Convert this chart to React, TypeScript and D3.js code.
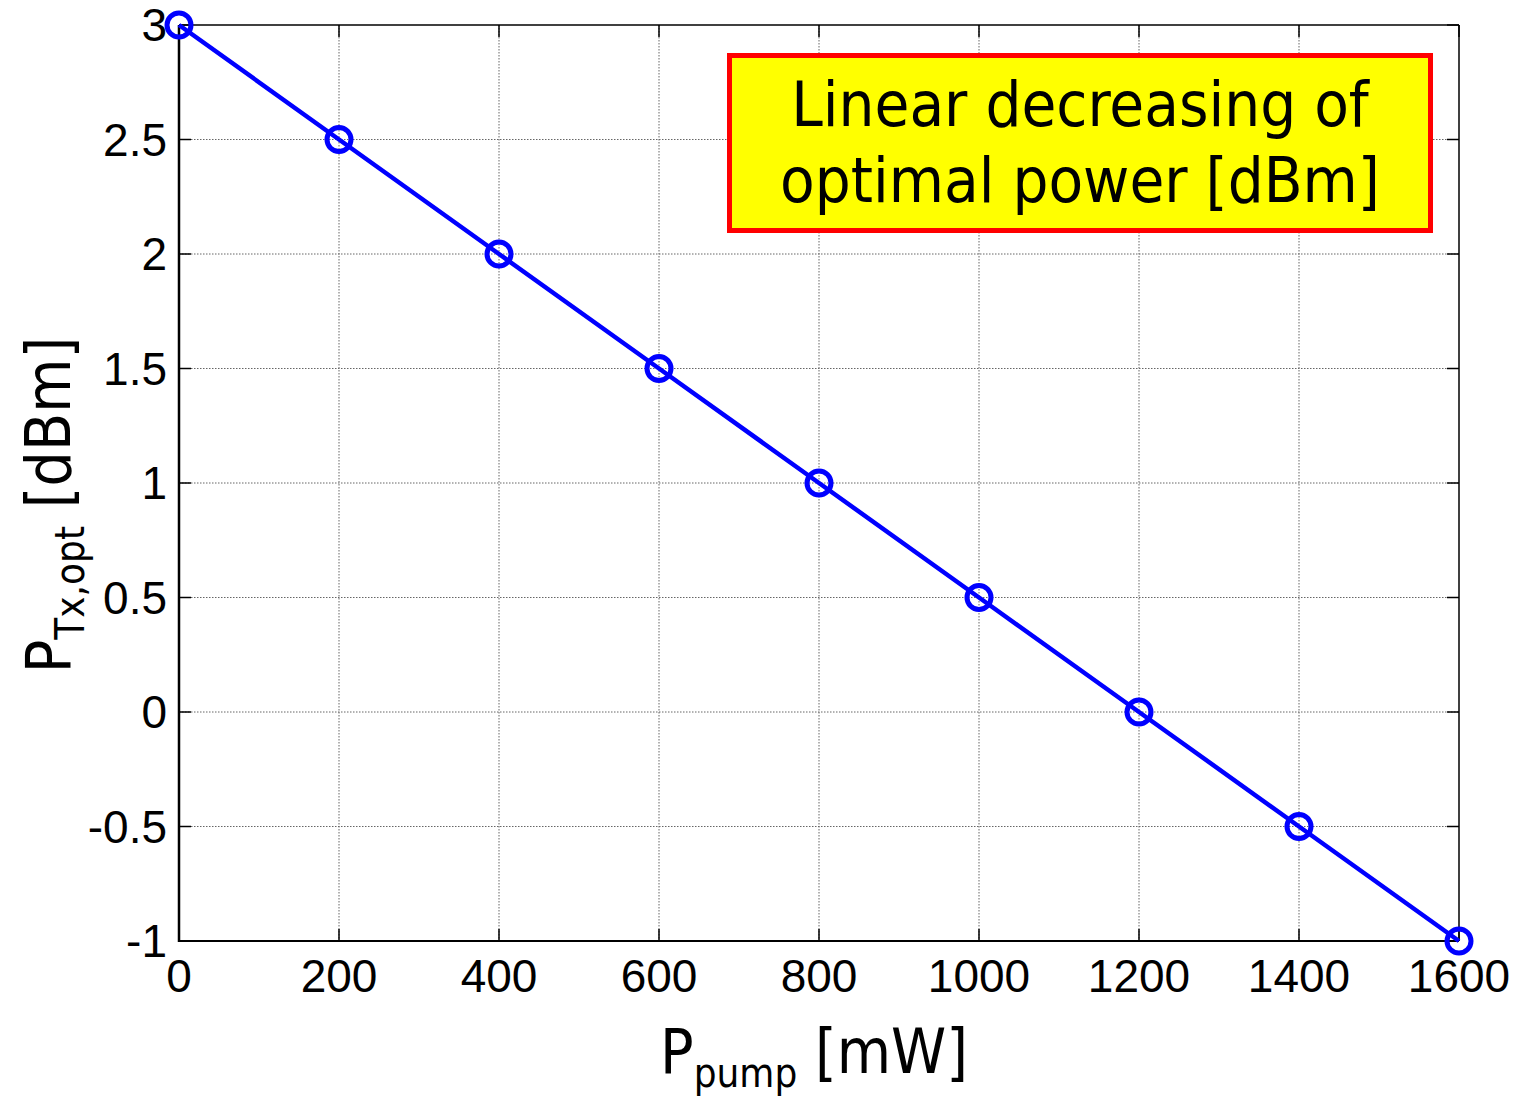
import React from "react";
import * as d3 from "d3";

// Pump power [mW] and the resulting optimal launch power [dBm]
const pumpPower = [0, 200, 400, 600, 800, 1000, 1200, 1400, 1600];
const optPower = [3, 2.5, 2, 1.5, 1, 0.5, 0, -0.5, -1];
const xTicks = [0, 200, 400, 600, 800, 1000, 1200, 1400, 1600];
const yTicks = [3, 2.5, 2, 1.5, 1, 0.5, 0, -0.5, -1];
const noteLines = ["Linear decreasing of", "optimal power [dBm]"];

const W = 1514;
const H = 1096;
const left = 179;
const right = 1459;
const top = 25;
const bottom = 941;

export default function App() {
  const x = d3.scaleLinear().domain([0, 1600]).range([left, right]);
  const y = d3.scaleLinear().domain([-1, 3]).range([bottom, top]);
  const line = d3
    .line<number>()
    .x((_, i) => x(pumpPower[i]))
    .y((d) => y(d));

  const tickFont = "'Liberation Sans', Arial, sans-serif";
  const labelFont = "'DejaVu Sans Condensed', 'DejaVu Sans', sans-serif";

  return (
    <svg
      width={W}
      height={H}
      style={{ position: "absolute", left: 0, top: 0, background: "#fff" }}
    >
      {/* grid */}
      {xTicks.slice(1, -1).map((t) => (
        <line
          key={"gx" + t}
          x1={x(t)}
          x2={x(t)}
          y1={top}
          y2={bottom}
          stroke="#666"
          strokeWidth={1}
          strokeDasharray="1.5,1.5"
        />
      ))}
      {yTicks.slice(1, -1).map((t) => (
        <line
          key={"gy" + t}
          x1={left}
          x2={right}
          y1={y(t)}
          y2={y(t)}
          stroke="#666"
          strokeWidth={1}
          strokeDasharray="1.5,1.5"
        />
      ))}

      {/* ticks, inward on all four sides */}
      {xTicks.map((t) => (
        <g key={"tx" + t} stroke="#000" strokeWidth={1.5}>
          <line x1={x(t)} x2={x(t)} y1={bottom} y2={bottom - 12} />
          <line x1={x(t)} x2={x(t)} y1={top} y2={top + 12} />
        </g>
      ))}
      {yTicks.map((t) => (
        <g key={"ty" + t} stroke="#000" strokeWidth={1.5}>
          <line x1={left} x2={left + 12} y1={y(t)} y2={y(t)} />
          <line x1={right} x2={right - 12} y1={y(t)} y2={y(t)} />
        </g>
      ))}

      {/* axes box */}
      <line x1={left} x2={right} y1={top} y2={top} stroke="#000" strokeWidth={1.5} />
      <line x1={right} x2={right} y1={top} y2={bottom} stroke="#000" strokeWidth={1.5} />
      <line x1={left} x2={left} y1={top} y2={bottom + 1} stroke="#000" strokeWidth={2.5} />
      <line x1={left} x2={right} y1={bottom} y2={bottom} stroke="#000" strokeWidth={2} />

      {/* tick labels */}
      {xTicks.map((t) => (
        <text
          key={"lx" + t}
          x={x(t)}
          y={bottom + 51}
          textAnchor="middle"
          fontFamily={tickFont}
          fontSize={46}
        >
          {t}
        </text>
      ))}
      {yTicks.map((t) => (
        <text
          key={"ly" + t}
          x={left - 12}
          y={y(t) + 16}
          textAnchor="end"
          fontFamily={tickFont}
          fontSize={46}
        >
          {t}
        </text>
      ))}

      {/* data */}
      <path d={line(optPower) || ""} fill="none" stroke="#0000ff" strokeWidth={4.5} />
      {optPower.map((v, i) => (
        <circle
          key={"p" + i}
          cx={x(pumpPower[i])}
          cy={y(v)}
          r={12}
          fill="none"
          stroke="#0000ff"
          strokeWidth={5}
        />
      ))}

      {/* annotation */}
      <rect
        x={729.5}
        y={55.5}
        width={701}
        height={175}
        fill="#ffff00"
        stroke="#ff0000"
        strokeWidth={5}
      />
      {noteLines.map((s, i) => (
        <text
          key={"n" + i}
          x={1080}
          y={126 + i * 76}
          textAnchor="middle"
          fontFamily={labelFont}
          fontSize={63}
        >
          {s}
        </text>
      ))}

      {/* axis labels */}
      <text
        x={814}
        y={1073}
        textAnchor="middle"
        fontFamily={labelFont}
        fontSize={62}
      >
        P
        <tspan fontSize={40} dy={14}>pump</tspan>
        <tspan dy={-14}> [mW]</tspan>
      </text>
      <text
        transform={`translate(70, 505) rotate(-90)`}
        textAnchor="middle"
        fontFamily={labelFont}
        fontSize={62}
      >
        P
        <tspan fontSize={40} dy={14}>Tx,opt</tspan>
        <tspan dy={-14}> [dBm]</tspan>
      </text>
    </svg>
  );
}
